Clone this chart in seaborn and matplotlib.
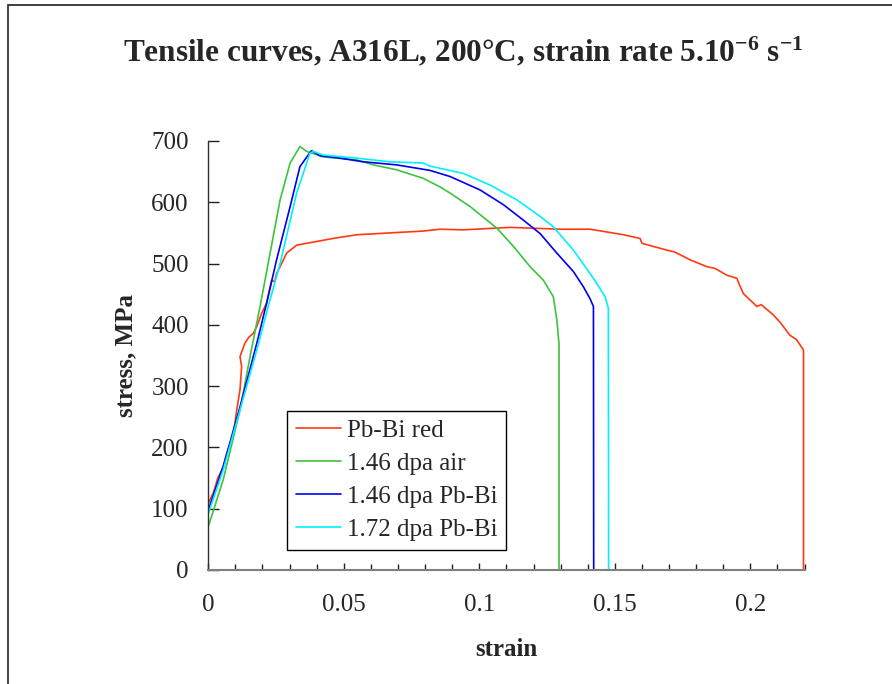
import pandas as pd
import matplotlib
matplotlib.use("Agg")
import matplotlib.pyplot as plt
import seaborn as sns
from matplotlib.ticker import MultipleLocator
from matplotlib.patches import Rectangle

# curves (strain, stress in MPa)
red_strain = [0, 0.0018, 0.0035, 0.0055, 0.0068, 0.0080, 0.0092, 0.0100, 0.0105, 0.0117,
              0.0123, 0.0117, 0.0135, 0.0150, 0.0166, 0.0179, 0.0197, 0.0215, 0.0234, 0.0245,
              0.0252, 0.0265, 0.0289, 0.0326, 0.0363, 0.0461, 0.0548, 0.067, 0.0793, 0.0855,
              0.0941, 0.1113, 0.1298, 0.1409, 0.1532, 0.1593, 0.1600, 0.1691, 0.1720, 0.1778,
              0.1839, 0.1870, 0.1913, 0.195, 0.1960, 0.1974, 0.2024, 0.2040, 0.2085, 0.2110,
              0.2146, 0.2170, 0.2196, 0.2196]
red_stress = [109, 125, 150, 168, 190, 205, 223, 245, 261, 294,
              332, 348, 370, 380, 386, 397, 419, 435, 473, 470,
              484, 495, 517, 530, 533, 541, 547, 550, 553, 556,
              555, 559, 556, 556, 547, 541, 533, 522, 519, 506,
              495, 492, 481, 476, 465, 451, 430, 433, 416, 404,
              383, 376, 359, 0]

green_strain = [0, 0.0055, 0.0117, 0.0154, 0.0191, 0.0265, 0.0302, 0.0338, 0.0363, 0.0424,
                0.0548, 0.0609, 0.0695, 0.0793, 0.0855, 0.0892, 0.0966, 0.1064, 0.1126, 0.1187,
                0.1236, 0.1273, 0.1286, 0.1292, 0.1294, 0.1294]
green_stress = [71, 147, 261, 348, 430, 604, 664, 691, 683, 674,
                669, 661, 653, 639, 625, 615, 593, 558, 528, 495,
                473, 446, 408, 378, 370, 0]

blue_strain = [0, 0.0055, 0.0117, 0.0179, 0.0215, 0.0252, 0.0302, 0.0338, 0.0375, 0.0381,
               0.0412, 0.0486, 0.0572, 0.0695, 0.0818, 0.0892, 0.1003, 0.1089, 0.1162, 0.1224,
               0.1286, 0.1347, 0.1384, 0.1408, 0.1421, 0.1422]
blue_stress = [98, 169, 266, 370, 435, 506, 593, 658, 681, 684,
               676, 672, 666, 661, 652, 642, 620, 596, 571, 549,
               517, 487, 462, 443, 430, 0]

cyan_strain = [0, 0.0055, 0.0117, 0.0179, 0.0221, 0.0265, 0.0326, 0.0375, 0.0387, 0.0424,
               0.0548, 0.067, 0.0793, 0.0818, 0.0941, 0.104, 0.1138, 0.1224, 0.1273, 0.1347,
               0.1421, 0.1464, 0.1476, 0.1477]
cyan_stress = [92, 163, 261, 359, 430, 500, 615, 680, 683, 677,
               672, 666, 664, 659, 647, 628, 604, 577, 560, 522,
               476, 446, 427, 0]

labels = ["Pb-Bi red", "1.46 dpa air", "1.46 dpa Pb-Bi", "1.72 dpa Pb-Bi"]
colors = ["#FF3A12", "#3CC43C", "#0000F0", "#00F0FF"]

frames = []
for lab, xs, ys in zip(labels,
                       [red_strain, green_strain, blue_strain, cyan_strain],
                       [red_stress, green_stress, blue_stress, cyan_stress]):
    d = pd.DataFrame({"strain": xs, "stress": ys})
    d["sample"] = lab
    frames.append(d)
df = pd.concat(frames, ignore_index=True)

sns.set_style("white")
plt.rcParams["font.family"] = ["Liberation Serif", "DejaVu Serif"]
plt.rcParams["mathtext.fontset"] = "custom"
plt.rcParams["mathtext.rm"] = "Liberation Serif:bold"
plt.rcParams["mathtext.default"] = "rm"

fig = plt.figure(figsize=(8.92, 6.84), dpi=100)
ax = fig.add_axes([0.2335, 0.1667, 0.6685, 0.6272])

sns.lineplot(data=df, x="strain", y="stress", hue="sample", hue_order=labels,
             palette=colors, units="sample", estimator=None, sort=False,
             linewidth=1.2, ax=ax)

ax.set_xlim(0, 0.22)
ax.set_ylim(0, 700)
ax.xaxis.set_major_locator(MultipleLocator(0.05))
ax.xaxis.set_minor_locator(MultipleLocator(0.01))
ax.yaxis.set_major_locator(MultipleLocator(100))
ax.xaxis.set_major_formatter(plt.FuncFormatter(lambda v, _: "0" if v == 0 else "{:g}".format(v)))

for s in ["top", "right"]:
    ax.spines[s].set_visible(False)
ax.spines["left"].set_color("#303030")
ax.spines["left"].set_linewidth(1.0)
ax.spines["bottom"].set_color("#808080")
ax.spines["bottom"].set_linewidth(1.5)

ax.tick_params(axis="x", which="major", direction="in", length=5, width=1, color="#202020",
               labelsize=18, pad=17, bottom=True)
ax.tick_params(axis="x", which="minor", direction="in", length=4, width=1, color="#202020",
               bottom=True)
ax.tick_params(axis="y", which="major", direction="in", length=8, width=1, color="#202020",
               labelsize=18, pad=14, left=True)

ax.set_xlabel("strain", fontsize=18, fontweight="bold", labelpad=16)
ax.set_ylabel("stress, MPa", fontsize=18, fontweight="bold", labelpad=10)

leg = ax.legend(loc="lower left", bbox_to_anchor=(0.132, 0.047), fontsize=18,
                frameon=True, fancybox=False, edgecolor="black", framealpha=1,
                handlelength=1.8, handletextpad=0.25, labelspacing=0.42,
                borderpad=0.35, borderaxespad=0)
leg.get_frame().set_linewidth(1.0)
for h in leg.get_lines():
    h.set_linewidth(1.2)

fig.text(0.519, 0.924, "Tensile curves, A316L, 200\u00b0C, strain rate 5.10$^{-6}$ s$^{-1}$",
         ha="center", va="center", fontsize=22.5, fontweight="bold")

# chart area border (Excel style), open to the right and bottom
fig.patches.append(Rectangle((8 / 892, -0.1), 1.2, 1.1 - 5 / 684, transform=fig.transFigure,
                             fill=False, edgecolor="#202020", linewidth=1.2))

fig.savefig("out.png", dpi=100)
